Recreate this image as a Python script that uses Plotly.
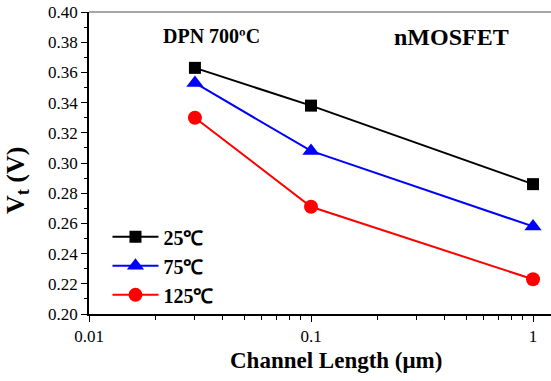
import plotly.graph_objects as go

channel_length = [0.03, 0.1, 1]
vt_25 = [0.363, 0.338, 0.286]
vt_75 = [0.353, 0.308, 0.258]
vt_125 = [0.330, 0.271, 0.223]
series_names = ["25℃", "75℃", "125℃"]

font_family = "Liberation Serif"

fig = go.Figure()
fig.add_trace(go.Scatter(x=channel_length, y=vt_25, name=series_names[0], mode="lines+markers",
                         line=dict(color="black", width=2), cliponaxis=False,
                         marker=dict(symbol="square", size=12, color="black")))
fig.add_trace(go.Scatter(x=channel_length, y=vt_75, name=series_names[1], mode="lines+markers",
                         line=dict(color="#0000ff", width=2), cliponaxis=False,
                         marker=dict(symbol="triangle-up", size=15, color="#0000ff")))
fig.add_trace(go.Scatter(x=channel_length, y=vt_125, name=series_names[2], mode="lines+markers",
                         line=dict(color="#ff0000", width=2), cliponaxis=False,
                         marker=dict(symbol="circle", size=14, color="#ff0000")))

fig.update_layout(
    width=551, height=381,
    margin=dict(l=89, r=0, t=12, b=67, autoexpand=False),
    paper_bgcolor="white", plot_bgcolor="white",
    font=dict(family=font_family, color="black", size=17),
    showlegend=True,
    legend=dict(x=0.04, y=0.32, xanchor="left", yanchor="top",
                font=dict(family=font_family, size=20, color="black", weight="bold"),
                bgcolor="rgba(0,0,0,0)", itemwidth=46, tracegroupgap=0),
    xaxis=dict(type="log", range=[-2, 0.081], showgrid=False, zeroline=False, automargin=False,
               showline=True, linecolor="black", linewidth=1.5,
               ticks="outside", ticklen=6, tickcolor="black",
               tickvals=[0.01, 0.1, 1], ticktext=["0.01", "0.1", "1"],
               minor=dict(ticks="outside", ticklen=4, tickcolor="black", dtick="D1")),
    yaxis=dict(range=[0.20, 0.40], showgrid=False, zeroline=False, automargin=False,
               showline=True, linecolor="black", linewidth=1.5,
               ticks="outside", ticklen=6, tickcolor="black",
               dtick=0.02, tickformat=".2f",
               minor=dict(ticks="outside", ticklen=3, tickcolor="black", dtick=0.01)),
)

fig.add_shape(type="line", xref="paper", yref="paper", x0=0, x1=1, y0=1, y1=1,
              line=dict(color="#888888", width=1.5))

# Axis titles as annotations (pixel-placed relative to paper)
fig.add_annotation(text="Channel Length (μm)", xref="paper", yref="paper",
                   x=(336 - 89) / 462, y=-(360 - 314) / 302, xanchor="center", yanchor="middle",
                   showarrow=False,
                   font=dict(family=font_family, size=23, weight="bold", color="black"))
fig.add_annotation(text="V<sub>t</sub> (V)", xref="paper", yref="paper",
                   x=(17 - 89) / 462, y=(314 - 181) / 302, xanchor="center", yanchor="middle",
                   textangle=-90, showarrow=False,
                   font=dict(family=font_family, size=26, weight="bold", color="black"))

fig.add_annotation(text="DPN 700ºC", xref="paper", yref="paper", x=(211 - 89) / 462, y=(314 - 36) / 302,
                   xanchor="center", yanchor="middle", showarrow=False,
                   font=dict(family=font_family, size=20, weight="bold", color="black"))
fig.add_annotation(text="nMOSFET", xref="paper", yref="paper", x=(451 - 89) / 462, y=(314 - 37) / 302,
                   xanchor="center", yanchor="middle", showarrow=False,
                   font=dict(family=font_family, size=24, weight="bold", color="black"))

fig.write_html("out.html", post_script="document.body.style.margin='0';",
               config={"displayModeBar": False})
